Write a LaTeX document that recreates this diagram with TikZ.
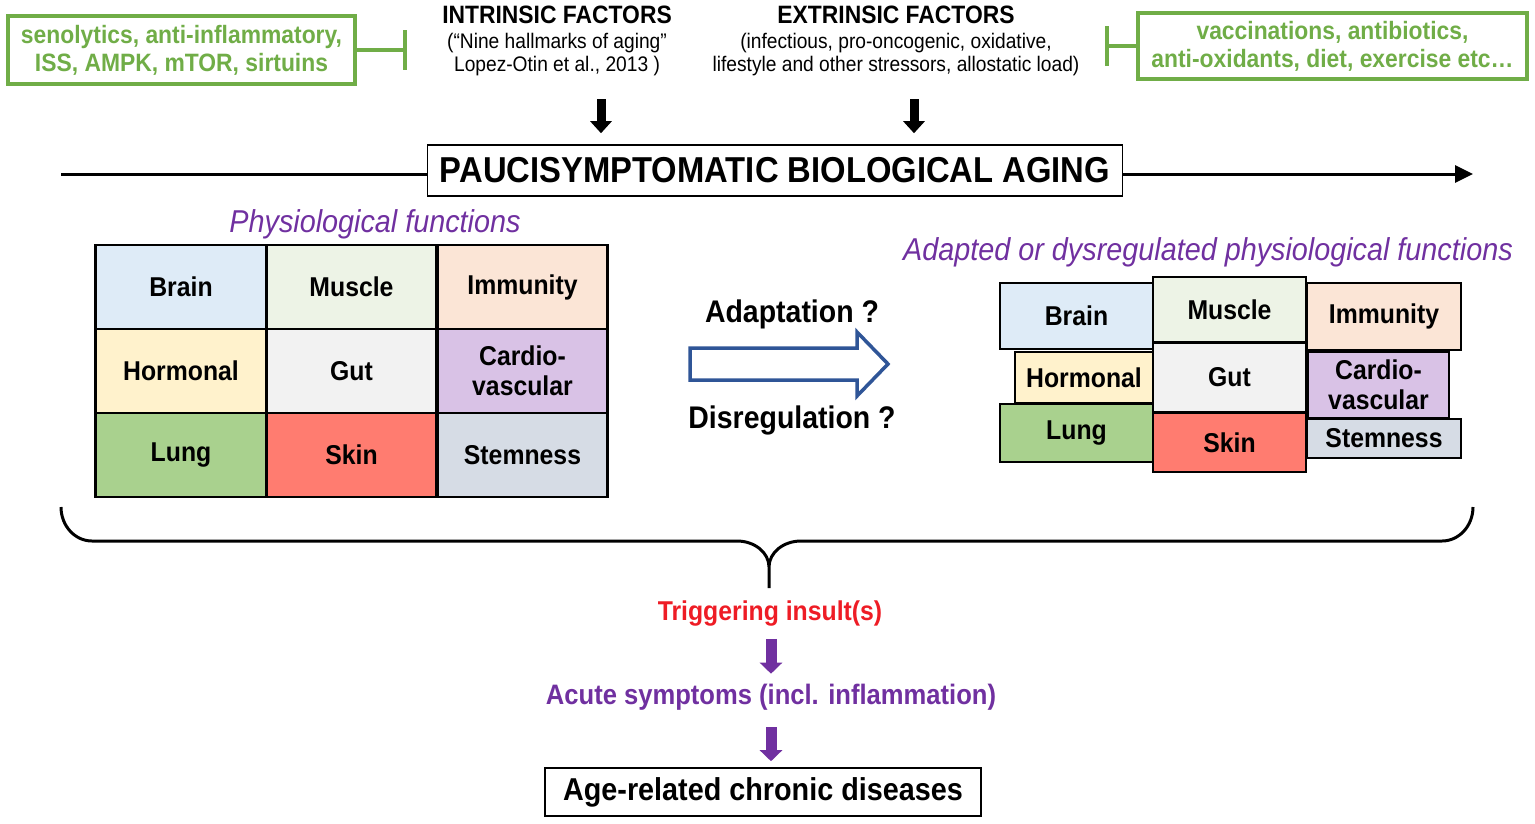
\documentclass[tikz,border=0pt]{standalone}
\usepackage{fontspec}
\setmainfont[FakeStretch=0.91]{Liberation Sans}
\usetikzlibrary{arrows.meta}

\definecolor{ggreen}{HTML}{70AD47}
\definecolor{ppurple}{HTML}{7030A0}
\definecolor{rred}{HTML}{EE1C25}
\definecolor{bblue}{HTML}{2F5597}
\definecolor{cBrain}{HTML}{DEEBF7}
\definecolor{cMuscle}{HTML}{EDF3E6}
\definecolor{cImmun}{HTML}{FBE5D6}
\definecolor{cHorm}{HTML}{FFF2CC}
\definecolor{cGut}{HTML}{F2F2F2}
\definecolor{cCardio}{HTML}{D9C2E6}
\definecolor{cLung}{HTML}{A9D18E}
\definecolor{cSkin}{HTML}{FF7C70}
\definecolor{cStem}{HTML}{D6DCE5}

\begin{document}
\begin{tikzpicture}[x=0.02cm, y=-0.02cm,
    cell/.style={draw, line width=1.6pt, inner sep=0pt, align=center, font=\fontsize{15.5}{17}\selectfont\bfseries},
    gridcell/.style={cell, minimum width=3.414cm, minimum height=1.68cm},
    greenbox/.style={draw=ggreen, line width=2pt, text=ggreen, align=center, inner sep=0pt, font=\fontsize{14.3}{16}\selectfont\bfseries},
    factor/.style={font=\fontsize{14.3}{16}\selectfont\bfseries},
    factorsub/.style={align=center, font=\fontsize{12}{13.1}\selectfont},
    heading/.style={text=ppurple, font=\fontsize{18}{20}\selectfont\itshape},
    question/.style={font=\fontsize{17.8}{20}\selectfont\bfseries},
    outcome/.style={font=\fontsize{16}{18}\selectfont\bfseries},
    inhib/.style={draw=ggreen, line width=2pt, -{Bar[width=0.8cm]}},
    blkarrow/.style={line width=0.18cm, -{Triangle[length=0.24cm, width=0.42cm]}},
    purarrow/.style={draw=ppurple, line width=0.22cm, -{Triangle[length=0.22cm, width=0.44cm]}, color=ppurple}
]
    \useasboundingbox (0,0) rectangle (1535,823);

    % top: factors and interventions
    \node[greenbox, minimum width=6.94cm, minimum height=1.36cm] (lgreen) at (181.5,50) {senolytics, anti-inflammatory,\\ISS, AMPK, mTOR, sirtuins};
    \node[greenbox, minimum width=7.78cm, minimum height=1.32cm] (rgreen) at (1332.5,46) {vaccinations, antibiotics,\\anti-oxidants, diet, exercise etc…};
    \coordinate (lbar) at (407,50);
    \coordinate (rbar) at (1105,46);
    \draw[inhib] (lgreen) -- (lbar);
    \draw[inhib] (rgreen) -- (rbar);

    \node[factor] (intr) at (557,15) {INTRINSIC FACTORS};
    \node[factorsub] (intrsub) at (557,55) {(“Nine hallmarks of aging”\\Lopez-Otin et al., 2013 )};
    \node[factor] (extr) at (896,15) {EXTRINSIC FACTORS};
    \node[factorsub] (extrsub) at (896,55) {(infectious, pro-oncogenic, oxidative,\\lifestyle and other stressors, allostatic load)};

    % timeline
    \node[draw, line width=0.9pt, minimum width=13.9cm, minimum height=1.02cm, font=\fontsize{20.5}{22}\selectfont\bfseries] (title) at (775,170.5) {PAUCISYMPTOMATIC BIOLOGICAL AGING};
    \coordinate (tl0) at (61,174);
    \coordinate (tl1) at (1473,174);
    \draw[line width=1.7pt] (tl0) -- (tl0 -| title.west);
    \draw[line width=1.7pt, -{Triangle[length=0.36cm, width=0.34cm]}] (title.east |- tl1) -- (tl1);
    \coordinate (ia) at (601,99);
    \coordinate (ea) at (914,99);
    \draw[blkarrow, shorten >=0.22cm] (ia) -- (ia |- title.north);
    \draw[blkarrow, shorten >=0.22cm] (ea) -- (ea |- title.north);

    % physiological functions
    \node[heading] (physio) at (375,224) {Physiological functions};
    \node[gridcell, fill=cBrain]  (brain)  at (181,287)   {Brain};
    \node[gridcell, fill=cMuscle] (muscle) at (351.5,287) {Muscle};
    \node[gridcell, fill=cImmun]  (immun)  at (522.5,287) {Immunity};
    \node[gridcell, fill=cHorm]   (horm)   at (181,371)   {Hormonal};
    \node[gridcell, fill=cGut]    (gut)    at (351.5,371) {Gut};
    \node[gridcell, fill=cCardio] (cardio) at (522.5,371) {Cardio-\\vascular};
    \node[gridcell, fill=cLung]   (lung)   at (181,455)   {Lung};
    \node[gridcell, fill=cSkin]   (skin)   at (351.5,455) {Skin};
    \node[gridcell, fill=cStem]   (stem)   at (522.5,455) {Stemness};

    % adaptation arrow
    \node[question] (adapt) at (792,314) {Adaptation ?};
    \node[question] (disreg) at (792,420) {Disregulation ?};
    \draw[bblue, line width=2pt] (690,348) -- (857,348) -- (857,332) -- (888,364) -- (857,396) -- (857,380) -- (690,380) -- cycle;

    % adapted functions
    \node[heading] (adapted) at (1208,252) {Adapted or dysregulated physiological functions};
    \node[cell, fill=cBrain,  minimum width=3.06cm, minimum height=1.32cm] (abrain)  at (1076.5,316)   {Brain};
    \node[cell, fill=cMuscle, minimum width=3.06cm, minimum height=1.30cm] (amuscle) at (1229.5,309.5) {Muscle};
    \node[cell, fill=cImmun,  minimum width=3.08cm, minimum height=1.34cm] (aimmun)  at (1384,316.5)   {Immunity};
    \node[cell, fill=cHorm,   minimum width=2.76cm, minimum height=1.02cm] (ahorm)   at (1084,377.5)   {Hormonal};
    \node[cell, fill=cGut,    minimum width=3.06cm, minimum height=1.38cm] (agut)    at (1229.5,377.5) {Gut};
    \node[cell, fill=cCardio, minimum width=2.82cm, minimum height=1.32cm] (acardio) at (1378.5,385)   {Cardio-\\vascular};
    \node[cell, fill=cLung,   minimum width=3.06cm, minimum height=1.16cm] (alung)   at (1076.5,433)   {Lung};
    \node[cell, fill=cSkin,   minimum width=3.06cm, minimum height=1.18cm] (askin)   at (1229.5,442.5) {Skin};
    \node[cell, fill=cStem,   minimum width=3.08cm, minimum height=0.78cm] (astem)   at (1384,438.5)   {Stemness};

    % brace
    \coordinate (brL) at (61,507);
    \coordinate (brTip) at (769,588);
    \draw[line width=1.7pt] (brL) arc[start angle=180, end angle=90, x radius=31, y radius=34] -- (737,541)
        arc[start angle=270, end angle=360, x radius=32, y radius=26] -- (brTip)
        (brTip) -- (769,567) arc[start angle=180, end angle=270, x radius=32, y radius=26] -- (1442,541)
        arc[start angle=90, end angle=0, x radius=31, y radius=34];

    % outcome
    \node[outcome, text=rred, font=\fontsize{15.5}{18}\selectfont\bfseries] (trig) at (770,614) {Triggering insult(s)};
    \node[outcome, text=ppurple] (acute) at (771,697) {Acute symptoms (incl. inflammation)};
    \node[draw, line width=0.9pt, minimum width=8.72cm, minimum height=0.96cm, font=\fontsize{18}{20}\selectfont\bfseries] (age) at (763,792) {Age-related chronic diseases};
    \draw[purarrow, shorten <=0.12cm, shorten >=0.08cm] (trig.south -| acute) -- (acute.north);
    \draw[purarrow, shorten <=0.22cm, shorten >=0.12cm] (acute.south) -- (acute.south |- age.north);
\end{tikzpicture}
\end{document}
